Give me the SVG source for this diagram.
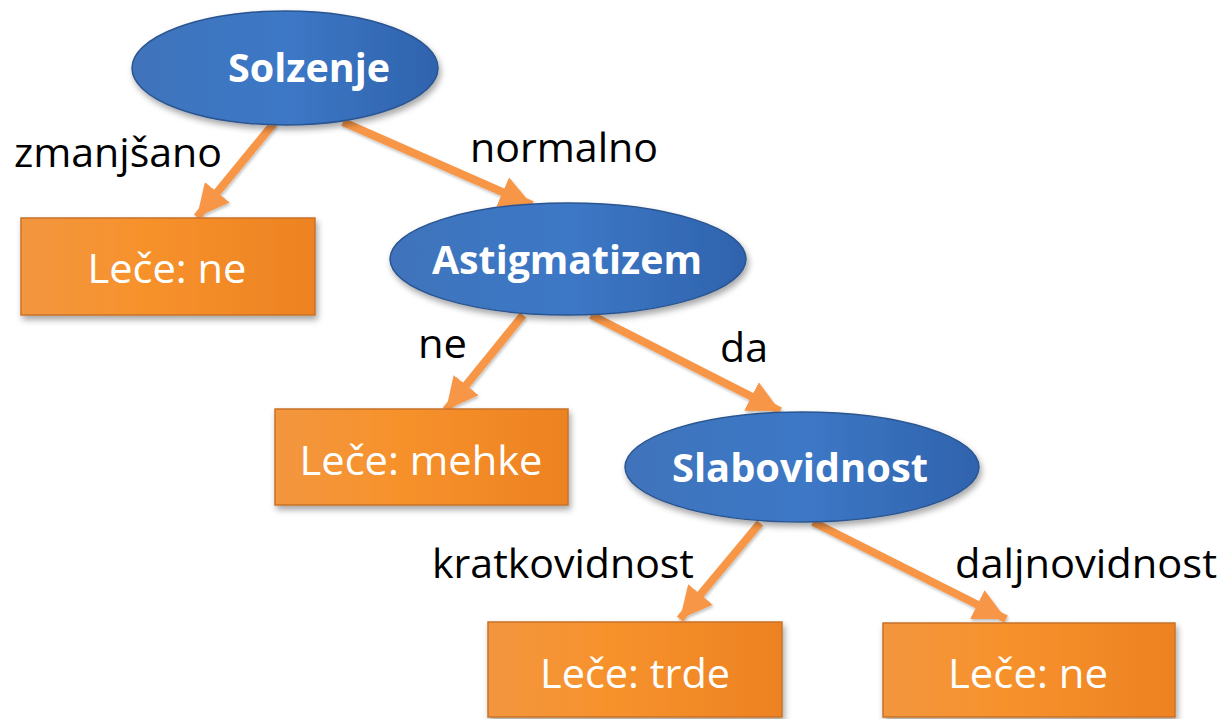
<svg xmlns="http://www.w3.org/2000/svg" width="1223" height="719" viewBox="0 0 1223 719">
<defs>
<linearGradient id="gBlue" x1="0" y1="0" x2="1" y2="0">
<stop offset="0" stop-color="#3f73bb"/>
<stop offset="0.5" stop-color="#3d78c6"/>
<stop offset="1" stop-color="#2f63ad"/>
</linearGradient>
<linearGradient id="gOrange" x1="0" y1="0" x2="1" y2="0">
<stop offset="0" stop-color="#f2963f"/>
<stop offset="0.4" stop-color="#f7922c"/>
<stop offset="1" stop-color="#ed8222"/>
</linearGradient>
<filter id="sh" x="-10%" y="-10%" width="125%" height="130%">
<feDropShadow dx="2" dy="4" stdDeviation="3" flood-color="#000" flood-opacity="0.35"/>
</filter>
<filter id="shA" x="-20%" y="-20%" width="140%" height="140%">
<feDropShadow dx="1" dy="2" stdDeviation="1.5" flood-color="#000" flood-opacity="0.25"/>
</filter>
<marker id="ah" viewBox="0 0 10 10" refX="10" refY="5" markerWidth="4" markerHeight="4" orient="auto" markerUnits="strokeWidth">
<path d="M0,0 L10,5 L0,10 Z" fill="#f79646"/>
</marker>
</defs>
<style>
.ell{fill:url(#gBlue);stroke:#2a5590;stroke-width:1.5;filter:url(#sh)}
.box{fill:url(#gOrange);stroke:#c8712a;stroke-width:1.5;filter:url(#sh)}
.nt{font-family:"Open Sans","Liberation Sans",sans-serif;font-weight:bold;font-size:39px;fill:#fff;text-anchor:middle}
.bt{font-family:"Open Sans","Liberation Sans",sans-serif;font-size:41px;fill:#fff;text-anchor:middle}
.lbl{font-family:"Open Sans","Liberation Sans",sans-serif;font-size:40px;fill:#000}
.arr{stroke:#f79646;stroke-width:8;fill:none;marker-end:url(#ah);filter:url(#shA)}
</style>
<g id="connectors">
<line class="arr" x1="274" y1="123" x2="197" y2="217"/>
<line class="arr" x1="343" y1="122" x2="532" y2="205"/>
<line class="arr" x1="523" y1="315" x2="446" y2="410"/>
<line class="arr" x1="591" y1="315" x2="780" y2="411"/>
<line class="arr" x1="760" y1="523" x2="680" y2="619"/>
<line class="arr" x1="813" y1="522" x2="1006" y2="619"/>
</g>
<g id="labels">
<text class="lbl" x="14" y="167" textLength="208" lengthAdjust="spacingAndGlyphs">zmanjšano</text>
<text class="lbl" x="470" y="162" textLength="188" lengthAdjust="spacingAndGlyphs">normalno</text>
<text class="lbl" x="418" y="358" textLength="49" lengthAdjust="spacingAndGlyphs">ne</text>
<text class="lbl" x="720" y="362" textLength="48" lengthAdjust="spacingAndGlyphs">da</text>
<text class="lbl" x="432" y="578" textLength="262" lengthAdjust="spacingAndGlyphs">kratkovidnost</text>
<text class="lbl" x="955" y="578" textLength="262" lengthAdjust="spacingAndGlyphs">daljnovidnost</text>
</g>
<g id="n-solzenje">
<ellipse class="ell" cx="285" cy="68" rx="153" ry="57"/>
<text class="nt" x="309" y="82" textLength="162" lengthAdjust="spacingAndGlyphs">Solzenje</text>
</g>
<g id="n-lece-ne-1">
<rect class="box" x="21" y="218" width="294" height="97"/>
<text class="bt" x="167" y="283" textLength="159" lengthAdjust="spacingAndGlyphs">Leče: ne</text>
</g>
<g id="n-astigmatizem">
<ellipse class="ell" cx="568" cy="259" rx="178" ry="56"/>
<text class="nt" x="567" y="274" textLength="270" lengthAdjust="spacingAndGlyphs">Astigmatizem</text>
</g>
<g id="n-lece-mehke">
<rect class="box" x="275" y="409" width="293" height="96"/>
<text class="bt" x="421" y="475" textLength="243" lengthAdjust="spacingAndGlyphs">Leče: mehke</text>
</g>
<g id="n-slabovidnost">
<ellipse class="ell" cx="802" cy="467" rx="177" ry="55"/>
<text class="nt" x="800" y="482" textLength="256" lengthAdjust="spacingAndGlyphs">Slabovidnost</text>
</g>
<g id="n-lece-trde">
<rect class="box" x="488" y="622" width="294" height="95"/>
<text class="bt" x="635" y="688" textLength="190" lengthAdjust="spacingAndGlyphs">Leče: trde</text>
</g>
<g id="n-lece-ne-2">
<rect class="box" x="883" y="623" width="292" height="94"/>
<text class="bt" x="1028" y="688" textLength="160" lengthAdjust="spacingAndGlyphs">Leče: ne</text>
</g>
</svg>
